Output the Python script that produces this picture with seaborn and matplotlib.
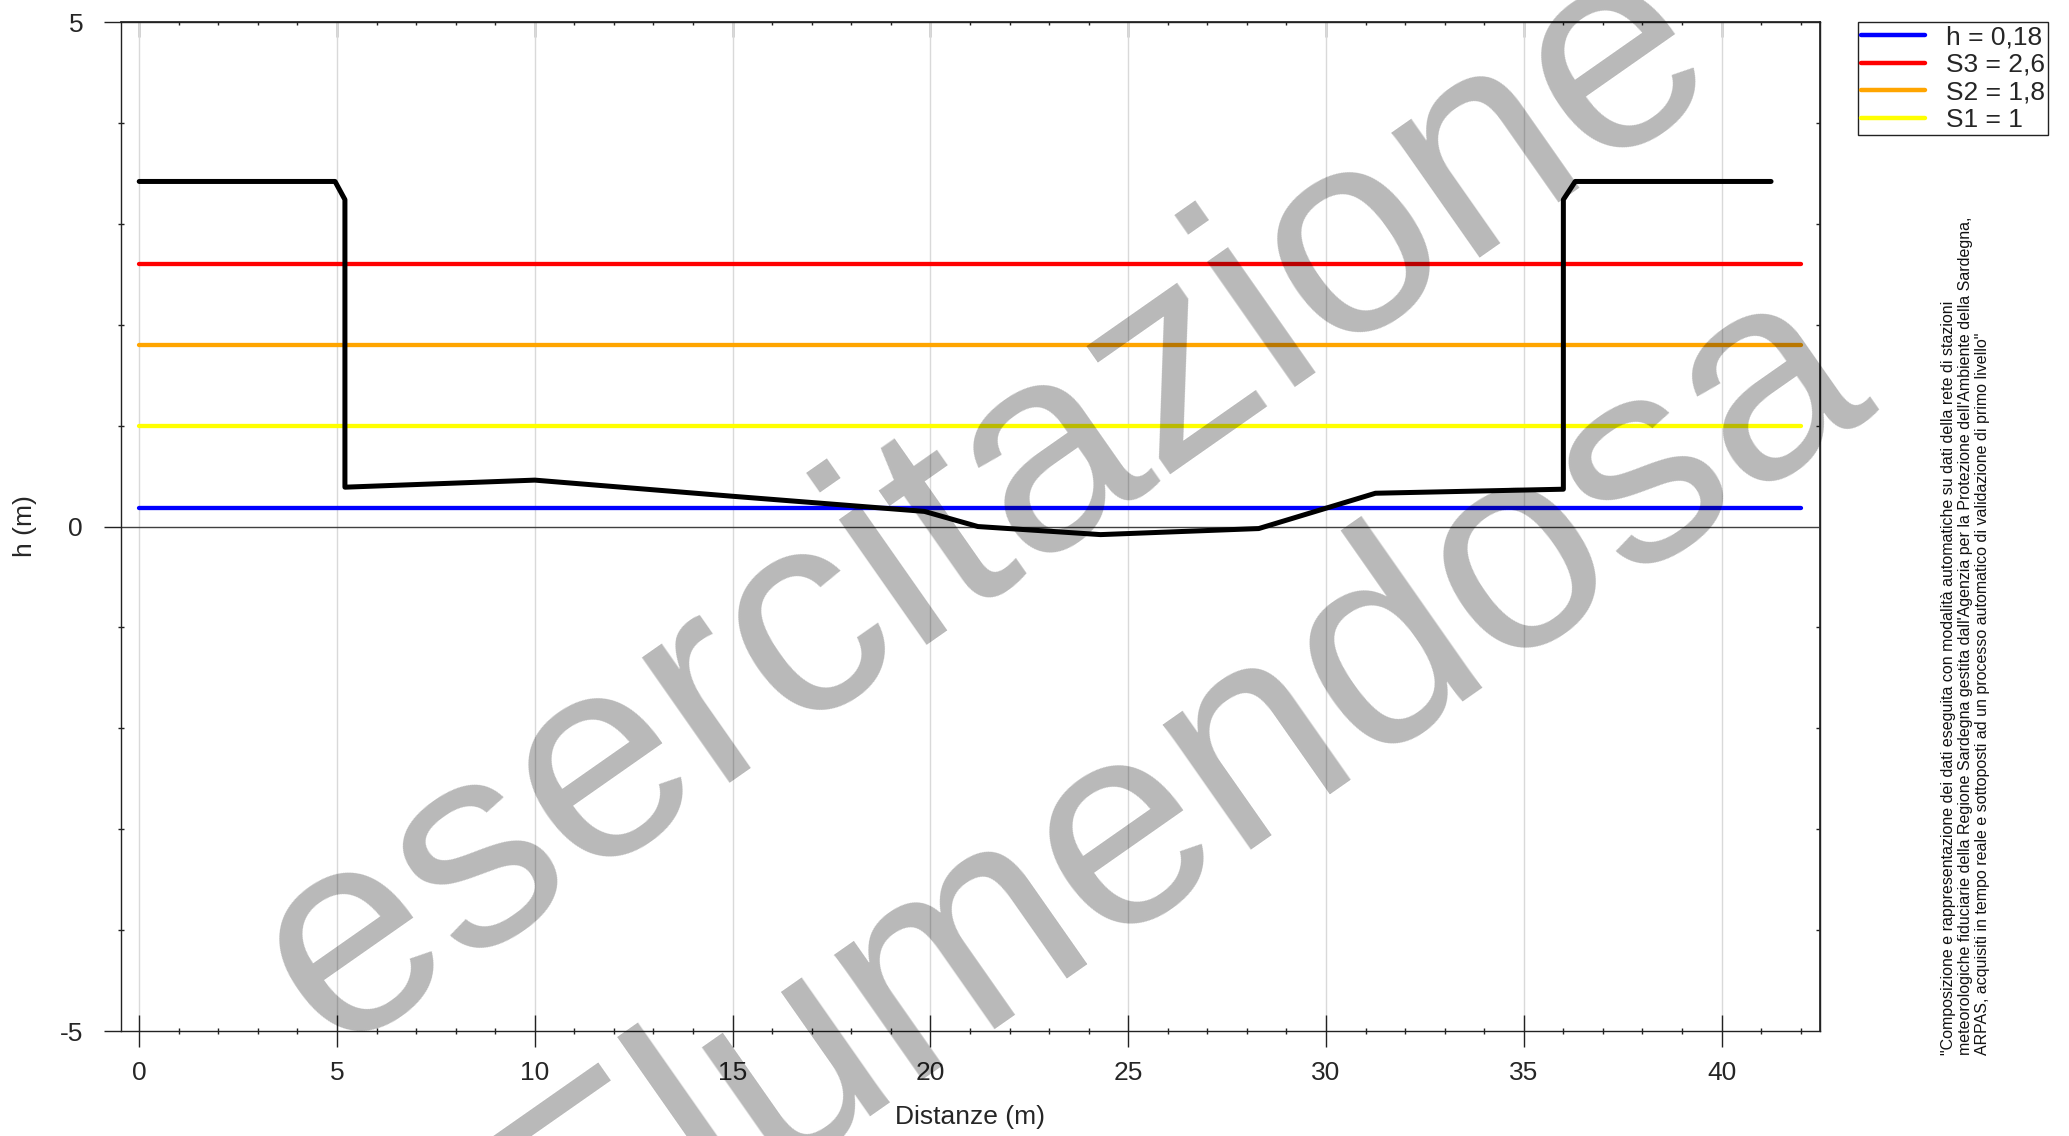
import numpy as np
import pandas as pd
import matplotlib
matplotlib.use('Agg')
import matplotlib.pyplot as plt
from matplotlib.ticker import MultipleLocator
import seaborn as sns

# sezione trasversale: distanza (m) e quota (m)
profile_dist = [0.0, 4.95, 5.2, 5.2, 10.0, 15.0, 19.85, 21.2, 24.3, 28.3, 31.25, 36.0, 36.0, 36.3, 41.25]
profile_h = [3.42, 3.42, 3.24, 0.39, 0.46, 0.30, 0.15, 0.0, -0.08, -0.02, 0.33, 0.37, 3.24, 3.42, 3.42]

# livello attuale e soglie
threshold_labels = ['h = 0,18', 'S3 = 2,6', 'S2 = 1,8', 'S1 = 1']
threshold_values = [0.18, 2.6, 1.8, 1.0]
threshold_colors = ['#0000ff', '#ff0000', '#ffa500', '#ffff00']
threshold_span = [0, 42]

watermark_words = ['esercitazione', 'Flumendosa']

disclaimer = ('"Composizione e rappresentazione dei dati eseguita con modalità automatiche su dati della rete di stazioni\n'
              'meteorologiche fiduciarie della Regione Sardegna gestita dall\'Agenzia per la Protezione dell\'Ambiente della Sardegna,\n'
              'ARPAS, acquisiti in tempo reale e sottoposti ad un processo automatico di validazione di primo livello"')

sns.set_theme(style='white')
plt.rcParams['font.family'] = ['Liberation Sans', 'DejaVu Sans']
plt.rcParams['axes.unicode_minus'] = False

fig, ax = plt.subplots(figsize=(20.69, 11.36), dpi=100)
fig.subplots_adjust(left=0.0583, right=0.8797, bottom=0.0924, top=0.9806)

thr = pd.DataFrame({
    'x': threshold_span * len(threshold_values),
    'h': np.repeat(threshold_values, len(threshold_span)),
    'soglia': np.repeat(threshold_labels, len(threshold_span)),
})
sns.lineplot(data=thr, x='x', y='h', hue='soglia', hue_order=threshold_labels,
             palette=threshold_colors, lw=3.1, estimator=None, ax=ax, zorder=3)
handles, labels = ax.get_legend_handles_labels()

sns.lineplot(x=profile_dist, y=profile_h, sort=False, estimator=None,
             color='black', lw=3.6, ax=ax, zorder=4, legend=False)
if ax.get_legend() is not None:
    ax.get_legend().remove()

ax.axhline(0, color='#404040', lw=1.0, zorder=2)
ax.set_xlim(-0.47, 42.49)
ax.set_ylim(-5, 5)

ax.xaxis.set_major_locator(MultipleLocator(5))
ax.xaxis.set_minor_locator(MultipleLocator(1))
ax.yaxis.set_major_locator(MultipleLocator(5))
ax.yaxis.set_minor_locator(MultipleLocator(1))
ax.grid(axis='x', which='major', color='#d9d9d9', lw=1.0)
ax.grid(axis='y', visible=False)

for s in ax.spines.values():
    s.set_color('#222222')
    s.set_linewidth(1.0)

ax.tick_params(axis='x', which='major', direction='inout', length=23, width=1,
               color='#222222', labelsize=19, pad=10, bottom=True)
ax.tick_params(axis='x', which='minor', direction='inout', length=4.3, width=1,
               color='#222222', bottom=True)
ax.tick_params(axis='y', which='major', direction='out', length=12, width=1,
               color='#222222', labelsize=19, pad=15, left=True)
ax.tick_params(axis='y', which='minor', direction='inout', length=4.3, width=1,
               color='#222222', left=True)

top = ax.secondary_xaxis('top')
top.xaxis.set_major_locator(MultipleLocator(5))
top.xaxis.set_minor_locator(MultipleLocator(1))
top.tick_params(which='major', direction='in', length=11, width=1, color='#222222', labeltop=False)
top.tick_params(which='minor', direction='in', length=2.5, width=1, color='#222222')

right = ax.secondary_yaxis('right')
right.yaxis.set_major_locator(MultipleLocator(5))
right.yaxis.set_minor_locator(MultipleLocator(1))
right.tick_params(which='major', length=0, labelright=False)
right.tick_params(which='minor', direction='in', length=3, width=1, color='#222222')

ax.set_xlabel('Distanze (m)', fontsize=19)
ax.set_ylabel('h (m)', fontsize=19)
ax.xaxis.set_label_coords(0.5, -0.085)
ax.xaxis.label.set_va('center')
ax.yaxis.set_label_coords(-0.0563, 0.5)
ax.yaxis.label.set_va('center')

leg = fig.legend(handles, labels, loc='upper left', bbox_to_anchor=(1858 / 2069, 1 - 22 / 1136),
                 borderaxespad=0, fontsize=19, labelspacing=0.14, borderpad=0.12,
                 handlelength=2.4, handletextpad=0.8, frameon=True, fancybox=False,
                 edgecolor='#222222', framealpha=1)
leg.get_frame().set_linewidth(1.0)
for ln in leg.get_lines():
    ln.set_linewidth(3.2)

fig.text(0.950, 0.0713, disclaimer, rotation=90, ha='center', va='bottom',
         multialignment='left', fontsize=11.5, linespacing=1.13, color='#111111')

# filigrana
fig.text(0.497, 0.502, watermark_words[0], rotation=35, rotation_mode='anchor',
         ha='center', va='baseline', fontsize=208, color='black', alpha=0.28, zorder=10)
fig.text(0.592, 0.250, watermark_words[1], rotation=35, rotation_mode='anchor',
         ha='center', va='baseline', fontsize=208, color='black', alpha=0.28, zorder=10)

fig.savefig('out.png', dpi=100)
